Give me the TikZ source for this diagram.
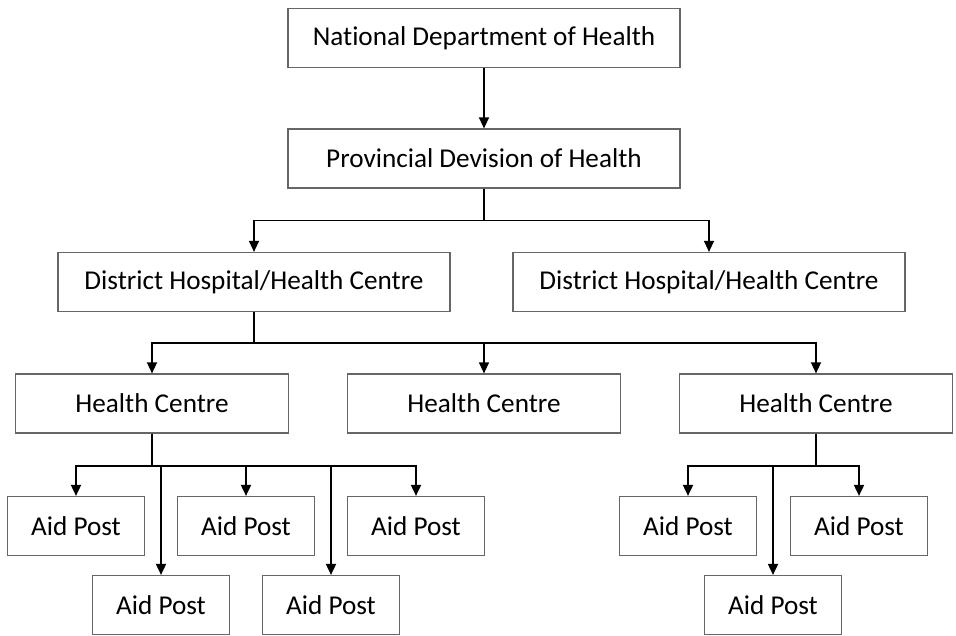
\documentclass[tikz,border=0pt]{standalone}
\usepackage{fontspec}
\setmainfont{Carlito}[Ligatures={NoCommon}]
\usetikzlibrary{arrows.meta}
\tikzstyle{unit}=[draw=black!60,line width=1.2pt,minimum height=59pt,inner sep=0pt,font=\fontsize{27.2}{31}\selectfont]
\tikzstyle{bigunit}=[unit,minimum width=392pt]
\tikzstyle{centre}=[unit,minimum width=273pt]
\tikzstyle{aidpost}=[unit,minimum width=137pt]
\tikzstyle{edge} = [draw,line width=1.3pt,-{Triangle[length=11pt,width=10pt]}]
\tikzstyle{busedge} = [edge,line width=1.8pt]

\begin{document}
\begin{tikzpicture}[x=1pt,y=-1pt]
    \useasboundingbox (0,0) rectangle (956,635);

    \node[bigunit] (nat) at (484,38) {National Department of Health};
    \node[bigunit] (prov) at (484,158.5) {Provincial Devision of Health};

    \foreach \x/\name in {254/dl, 709/dr}
        \node[bigunit] (\name) at (\x,282) {District Hospital/Health Centre};

    \foreach \x/\name in {152/hcl, 484/hcm, 816/hcr}
        \node[centre] (\name) at (\x,403.5) {Health Centre};

    \foreach \x/\y/\name in {76/526/a1, 246/526/a2, 416/526/a3, 161/605/a4, 331/605/a5,
                             688/526/a6, 859/526/a7, 773/605/a8}
        \node[aidpost] (\name) at (\x,\y) {Aid Post};

    \path[edge] (nat) -- (prov);

    \foreach \source/ \dest in {prov/dl, prov/dr}
        \path[edge] (\source.south) -- ++(0,32) -| (\dest.north);

    \foreach \source/ \dest in {dl/hcl, dl/hcm, dl/hcr}
        \path[edge] (\source.south) -- ++(0,31) -| (\dest.north);

    \foreach \source/ \dest in {hcl/a1, hcl/a2, hcl/a3, hcl/a4, hcl/a5, hcr/a6, hcr/a7, hcr/a8}
        \path[busedge] (\source.south) -- ++(0,32) -| (\dest.north);

\end{tikzpicture}
\end{document}
